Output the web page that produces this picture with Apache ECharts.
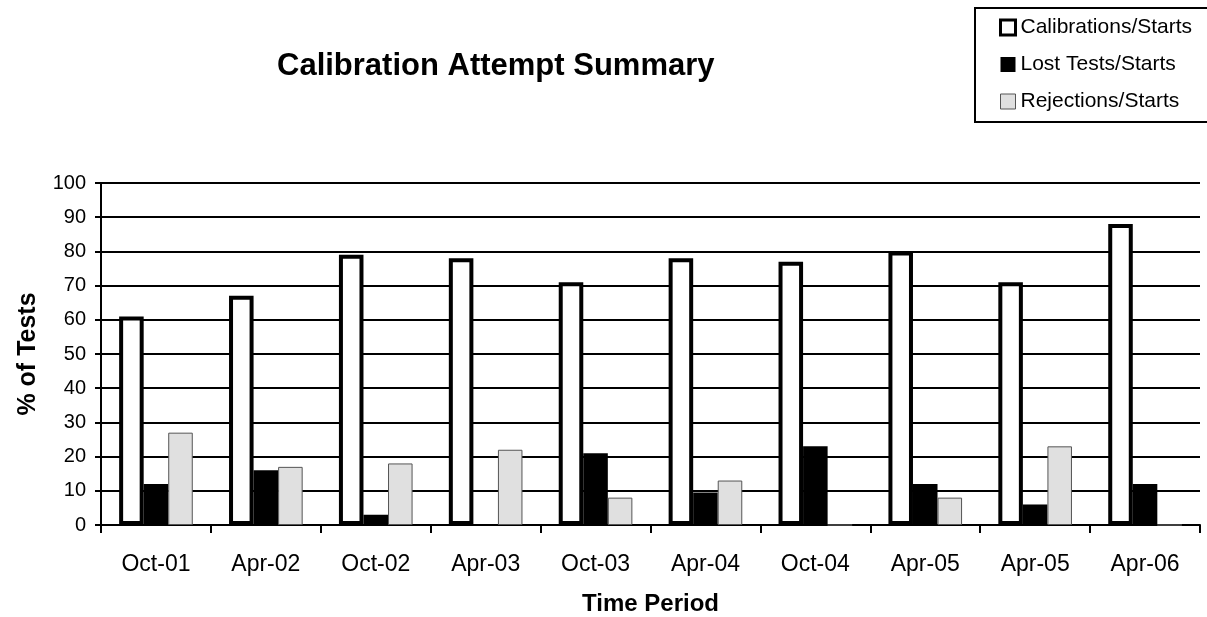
<!DOCTYPE html>
<html>
<head>
<meta charset="utf-8">
<script src="https://cdn.jsdelivr.net/npm/echarts@6/dist/echarts.min.js"></script>
<style>
  html, body { margin: 0; padding: 0; background: #fff; }
  #main { width: 1207px; height: 617px; }
</style>
</head>
<body>
<div id="main"></div>
<script>
// time periods (the source repeats Apr-05)
var periods = ["Oct-01", "Apr-02", "Oct-02", "Apr-03", "Oct-03", "Apr-04", "Oct-04", "Apr-05", "Apr-05", "Apr-06"];
var calibrations = [61, 67, 79, 78, 71, 78, 77, 80, 71, 88];
var lostTests = [12, 16, 3, 0, 21, 9.5, 23, 12, 6, 12];
var rejections = [27, 17, 18, 22, 8, 13, 0, 8, 23, 0];

var font = "'Liberation Sans', Arial, sans-serif";
var chart = echarts.init(document.getElementById("main"));

var option = {
    animation: false,
    title: {
        text: "Calibration Attempt Summary",
        left: 272,
        top: 46,
        textStyle: { fontFamily: font, fontSize: 31, fontWeight: "bold", color: "#000" }
    },
    legend: {
        orient: "vertical",
        left: 975,
        top: 8,
        padding: [9, 16, 10, 24],
        itemGap: 16,
        itemWidth: 15,
        itemHeight: 15,
        backgroundColor: "#fff",
        borderColor: "#000",
        borderWidth: 2,
        borderRadius: 0,
        textStyle: { fontFamily: font, fontSize: 21, color: "#000", lineHeight: 20 },
        data: [
            { name: "Calibrations/Starts", icon: "rect", itemStyle: { color: "#fff", borderColor: "#000", borderWidth: 3 } },
            { name: "Lost Tests/Starts", icon: "rect", itemStyle: { color: "#000", borderColor: "#000", borderWidth: 0 } },
            { name: "Rejections/Starts", icon: "rect", itemStyle: { color: "#e0e0e0", borderColor: "#555", borderWidth: 1 } }
        ]
    },
    grid: { left: 101, right: 7, top: 183, bottom: 92, outerBoundsMode: "none" },
    xAxis: {
        type: "category",
        data: periods,
        name: "Time Period",
        nameLocation: "middle",
        nameGap: 67,
        nameTextStyle: { fontFamily: font, fontSize: 24, fontWeight: "bold", color: "#000" },
        axisLine: { lineStyle: { color: "#000", width: 2 } },
        axisTick: { show: true, length: 8, lineStyle: { color: "#000", width: 2 } },
        axisLabel: { fontFamily: font, fontSize: 23, color: "#000", margin: 28, interval: 0 }
    },
    yAxis: {
        type: "value",
        min: 0,
        max: 100,
        interval: 10,
        name: "% of Tests",
        nameLocation: "middle",
        nameGap: 60,
        nameTextStyle: { fontFamily: font, fontSize: 25, fontWeight: "bold", color: "#000" },
        axisLine: { show: true, lineStyle: { color: "#000", width: 2 } },
        axisTick: { show: true, length: 6, lineStyle: { color: "#000", width: 2 } },
        axisLabel: { fontFamily: font, fontSize: 20, color: "#000", margin: 15 },
        splitLine: { show: true, lineStyle: { color: "#000", width: 2 } }
    },
    series: [
        {
            name: "Calibrations/Starts",
            type: "bar",
            data: calibrations,
            barGap: "0%",
            barCategoryGap: "33%",
            itemStyle: { color: "#fff", borderColor: "#000", borderWidth: 4 }
        },
        {
            name: "Lost Tests/Starts",
            type: "bar",
            data: lostTests,
            itemStyle: { color: "#000" }
        },
        {
            name: "Rejections/Starts",
            type: "bar",
            data: rejections,
            itemStyle: { color: "#e0e0e0", borderColor: "#555", borderWidth: 1 }
        }
    ]
};
chart.setOption(option);
</script>
</body>
</html>
